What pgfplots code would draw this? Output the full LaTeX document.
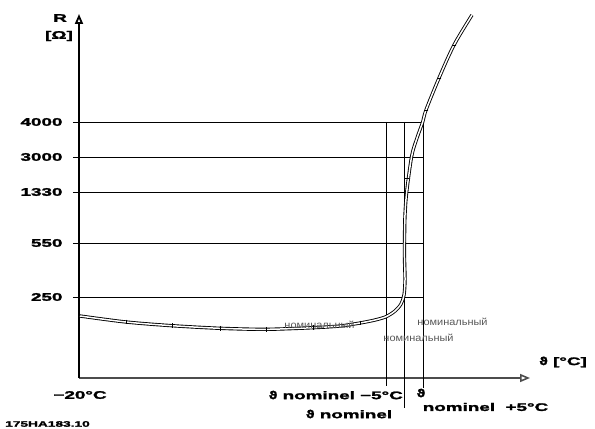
\documentclass[border=0pt]{standalone}
\usepackage{amsmath}
\usepackage{pgfplots}
\pgfplotsset{compat=1.18}
\usetikzlibrary{arrows.meta}
\usepackage{fontspec}
\setmainfont{Liberation Sans}
\newfontfamily\wide[FakeStretch=1.72,FakeBold=2.2]{Liberation Sans}
\newfontfamily\dv[FakeStretch=1.2,FakeBold=1.5]{DejaVu Sans}
\newfontfamily\grayf[FakeStretch=1.1]{Liberation Sans}
\newcommand{\thet}{{\dv\bfseries ϑ}}
\begin{document}
\begin{tikzpicture}
\path[use as bounding box] (-79bp,-51bp) rectangle (516bp,378bp);
\begin{axis}[
  at={(0,0)}, anchor=south west,
  scale only axis, width=451bp, height=364bp,
  xmin=0, xmax=451, ymin=0, ymax=364,
  axis lines=left, clip=false,
  x axis line style={-{Triangle[open,length=10bp,width=8bp]}, line width=1.6pt, black!70},
  y axis line style={-{Triangle[open,length=10bp,width=8bp]}, line width=1.8pt, black},
  xtick=\empty,
  ytick={81,135,186,221,256},
  yticklabels={250,550,1330,3000,4000},
  tick align=outside, major tick length=6bp,
  ytick style={black, line width=0.8pt},
  yticklabel style={font=\wide\bfseries\fontsize{11}{12}\selectfont, xshift=-7bp},
]
% horizontal grid lines
\addplot[black, line width=0.8pt] coordinates {(0,81) (344,81)};
\addplot[black, line width=0.8pt] coordinates {(0,135) (344,135)};
\addplot[black, line width=0.8pt] coordinates {(0,186) (344,186)};
\addplot[black, line width=0.8pt] coordinates {(0,221) (344,221)};
\addplot[black, line width=0.8pt] coordinates {(0,256) (344,256)};
% vertical lines
\addplot[black, line width=0.8pt] coordinates {(307,256) (307,-8)};
\addplot[black, line width=0.8pt] coordinates {(325,256) (325,-30)};
\addplot[black, line width=0.8pt] coordinates {(344,256) (344,-10)};
% curve
\addplot[smooth, tension=0.5, draw=black, double=white, double distance=1.5pt, line width=0.9pt] coordinates {
(1,62) (47,56) (93,52.3) (141,49.7) (187,48.7) (234,50.3) (261,52) (281,55)
(296,58) (307,61.3) (316,67) (322,74) (325,83) (326,98) (325.5,120) (325.5,136)
(326,163) (327.7,186) (332.7,222) (338,240) (343.7,256) (347,268) (360,300) (375,333) (393,363)};
% small cross ticks on curve
\addplot[only marks, mark=|, mark size=2.4bp, mark options={line width=0.7pt}] coordinates {
(47,56) (93,52.3) (141,49.7) (187,48.7) (234,50.3) (281,55)};
\addplot[only marks, mark=-, mark size=2.4bp, mark options={line width=0.7pt}] coordinates {
(328,200) (347,268) (360,300) (375,333)};
% labels
\node[font=\wide\bfseries\fontsize{11}{12}\selectfont] at (axis cs:-19,360) {R};
\node[font=\wide\bfseries\fontsize{11}{12}\selectfont] at (axis cs:-20,342) {[Ω]};
\node[font=\wide\bfseries\fontsize{11}{12}\selectfont] at (axis cs:1,-17) {−20°C};
\node[font=\wide\bfseries\fontsize{11}{12}\selectfont, anchor=east, inner sep=0pt] at (axis cs:324,-17) {\thet\ nominel −5°C};
\node[font=\wide\bfseries\fontsize{11}{12}\selectfont] at (axis cs:270,-36) {\thet\ nominel};
\node[font=\wide\bfseries\fontsize{11}{12}\selectfont] at (axis cs:342,-15) {\thet};
\node[font=\wide\bfseries\fontsize{11}{12}\selectfont] at (axis cs:406.5,-29) {nominel \ +5°C};
\node[font=\wide\bfseries\fontsize{11}{12}\selectfont] at (axis cs:484,16) {\thet\ [°C]};
\node[font=\wide\bfseries\fontsize{8}{9}\selectfont] at (axis cs:-31.5,-46) {175HA183.10};
\node[font=\grayf\fontsize{10}{11}\selectfont, text=black!65] at (axis cs:240.5,53) {номинальный};
\node[font=\grayf\fontsize{10}{11}\selectfont, text=black!65] at (axis cs:339.5,40) {номинальный};
\node[font=\grayf\fontsize{10}{11}\selectfont, text=black!65] at (axis cs:373.5,56) {номинальный};
\end{axis}
\end{tikzpicture}
\end{document}
